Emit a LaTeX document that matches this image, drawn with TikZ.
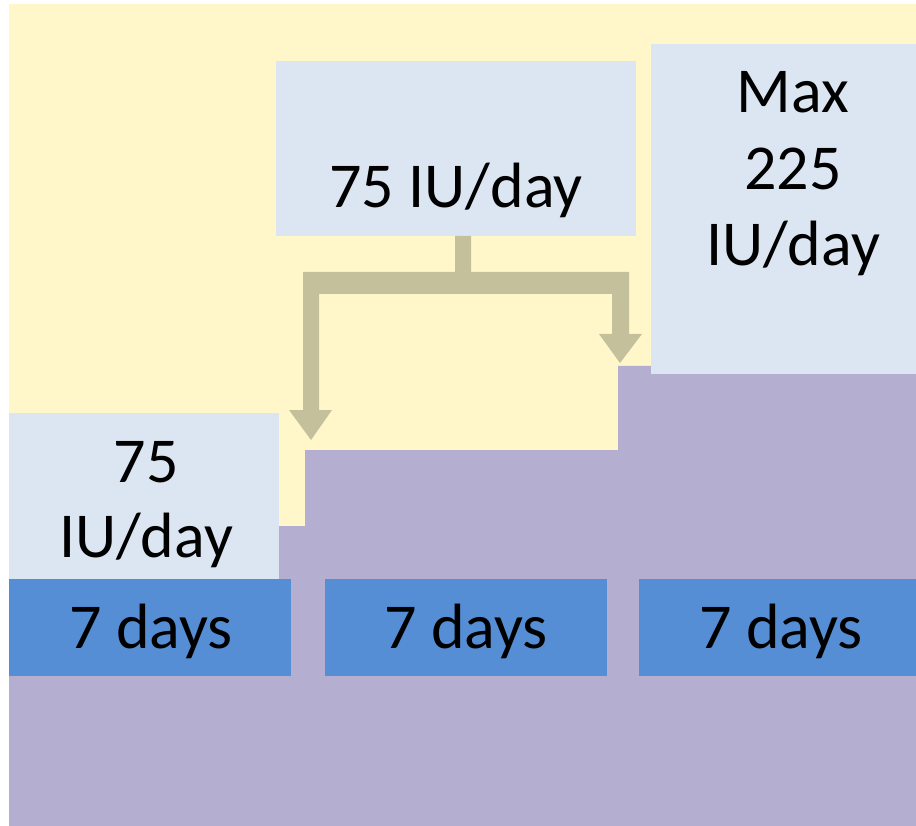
\documentclass[tikz,border=0pt]{standalone}
\usepackage{fontspec}
\setmainfont{Carlito}
\definecolor{bgyellow}{HTML}{FFF7C9}
\definecolor{stairpurple}{HTML}{B4AFD0}
\definecolor{lightbox}{HTML}{DCE6F2}
\definecolor{darkbox}{HTML}{558ED5}
\definecolor{arrowkhaki}{HTML}{C4C09C}
\begin{document}
\begin{tikzpicture}[x=1pt,y=-1pt,
  lbox/.style={fill=lightbox, draw=none, inner sep=0pt, outer sep=0pt, anchor=north west},
  dbox/.style={fill=darkbox, draw=none, inner sep=0pt, outer sep=0pt, anchor=north west},
  lbl/.style={inner sep=0pt, outer sep=0pt, anchor=base, font=\fontsize{64}{76}\selectfont, text=black},
  arr/.style={fill=arrowkhaki, draw=none}]
\useasboundingbox (0,0) rectangle (916,826);
\fill[white] (0,0) rectangle (916,826);
% background
\fill[bgyellow] (9,4) rectangle (916,826);
% staircase
\fill[stairpurple] (9,826) -- (9,526) -- (305,526) -- (305,450) -- (618,450) -- (618,366) -- (916,366) -- (916,826) -- cycle;
% light boxes
\node[lbox, minimum width=270pt, minimum height=166pt] (boxA) at (9,413) {};
\node[lbox, minimum width=360pt, minimum height=175pt] (boxB) at (276,61) {};
\node[lbox, minimum width=265pt, minimum height=330pt] (boxC) at (651,44) {};
% dark boxes
\node[dbox, minimum width=282pt, minimum height=97pt] (day1) at (9,579) {};
\node[dbox, minimum width=282pt, minimum height=97pt] (day2) at (325,579) {};
\node[dbox, minimum width=277pt, minimum height=97pt] (day3) at (639,579) {};
% labels
\node[lbl] (tA1) at (146,482) {75};
\node[lbl] (tA2) at (146,557) {IU/day};
\node[lbl] (tB) at (456,208) {75 IU/day};
\node[lbl] (tC1) at (793,113) {Max};
\node[lbl] (tC2) at (793,190) {225};
\node[lbl] (tC3) at (793,266) {IU/day};
\node[lbl] (tD1) at (151,648) {7 days};
\node[lbl] (tD2) at (466,648) {7 days};
\node[lbl] (tD3) at (781,648) {7 days};
% bracket arrows
\coordinate (stemtop) at (463,236);
\coordinate (tipL) at (311,440);
\coordinate (tipR) at (620,363);
\fill[arr] (455,236) -- (471,236) -- (471,272) -- (629,272) -- (629,334) -- (612,334) -- (612,294) -- (319,294) -- (319,410) -- (303,410) -- (303,272) -- (455,272) -- cycle;
\fill[arr] (289,410) -- (332,410) -- (tipL) -- cycle;
\fill[arr] (599,334) -- (642,334) -- (tipR) -- cycle;
\end{tikzpicture}
\end{document}
